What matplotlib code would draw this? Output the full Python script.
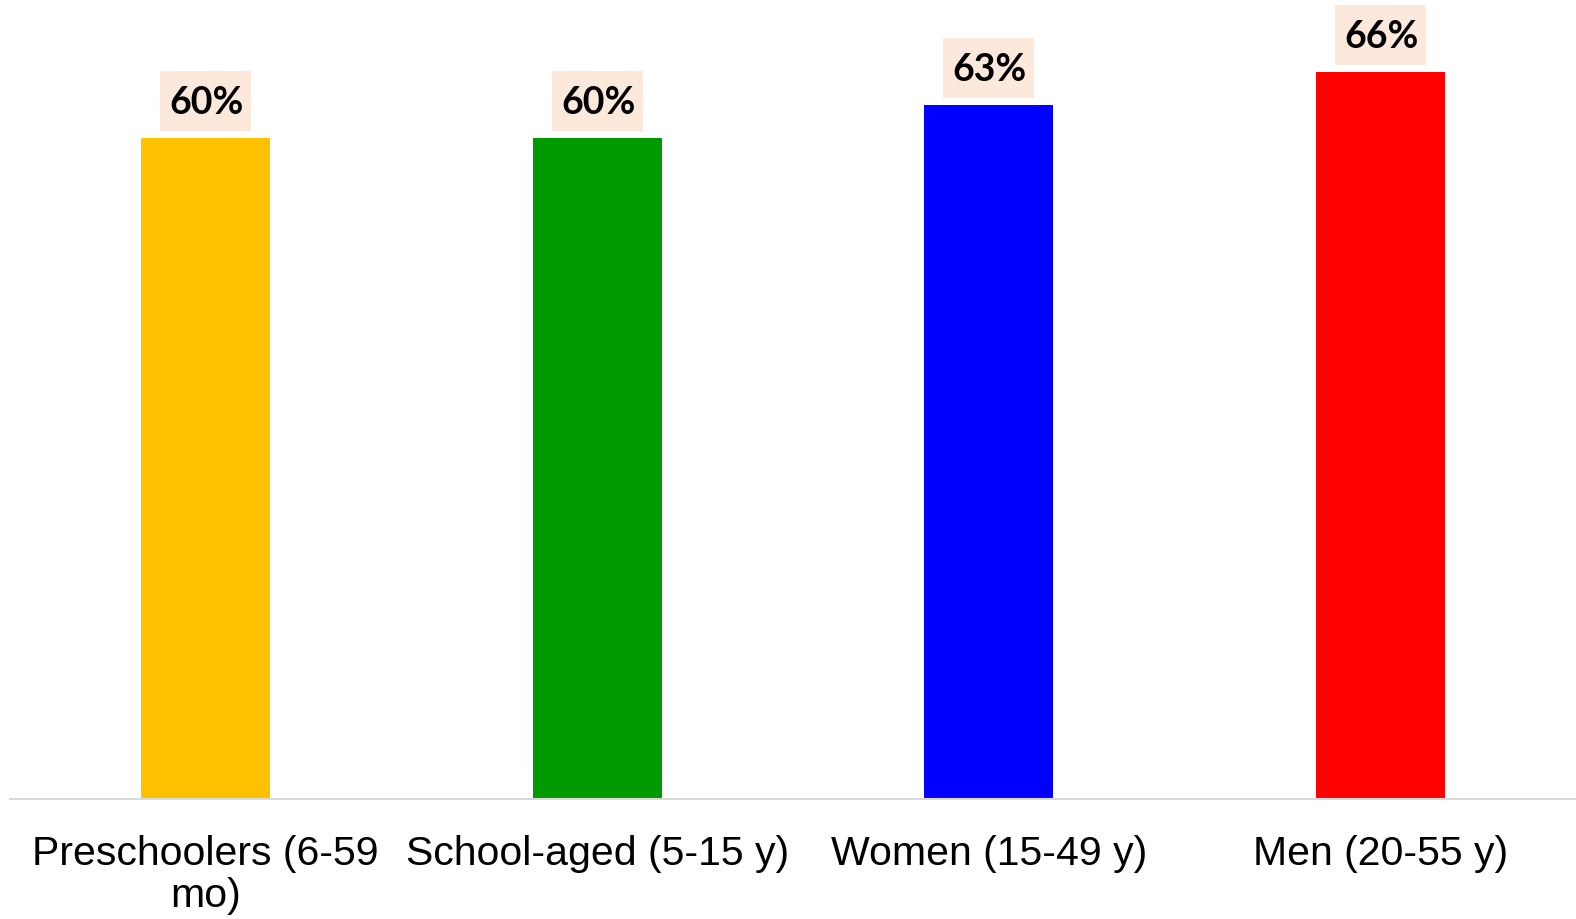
import matplotlib
matplotlib.use("Agg")
import matplotlib.pyplot as plt
from matplotlib.patches import Rectangle

categories = ["Preschoolers (6-59\nmo)", "School-aged (5-15 y)", "Women (15-49 y)", "Men (20-55 y)"]
values = [60, 60, 63, 66]
colors = ["#FFC000", "#009900", "#0000FF", "#FF0000"]

W, H = 1576, 920
fig = plt.figure(figsize=(W / 100, H / 100), dpi=100)
ax = fig.add_axes([10 / W, 120 / H, 1566 / W, 800 / H])

x = list(range(len(categories)))
ax.bar(x, values, width=0.33, color=colors, zorder=2)
ax.set_xlim(-0.5, len(categories) - 0.5)
ax.set_ylim(0, 72.6)

# value labels in shaded boxes above each bar
px_x = 391.5  # pixels per x unit
px_y = 800 / 72.6  # pixels per y unit
box_w = 91 / px_x
box_h = 60 / px_y
gap = 7 / px_y
for xi, v in zip(x, values):
    y0 = v + gap
    ax.add_patch(Rectangle((xi - box_w / 2, y0), box_w, box_h,
                           facecolor="#FDE9DB", edgecolor="none", zorder=3, clip_on=False))
    ax.text(xi + 0.003, y0 + box_h / 2 - 0.15, f"{v}%", ha="center", va="center",
            fontsize=27, fontweight="bold", family="Lato", color="black", zorder=4)

for s in ["top", "right", "left"]:
    ax.spines[s].set_visible(False)
ax.spines["bottom"].set_color("#D9D9D9")
ax.spines["bottom"].set_linewidth(1.5)
ax.set_yticks([])
ax.set_xticks(x)
ax.set_xticklabels(categories, fontsize=29.5, family="Liberation Sans", linespacing=1.15)
ax.tick_params(axis="x", length=0, pad=25)

fig.savefig("out.png", dpi=100, facecolor="white")
